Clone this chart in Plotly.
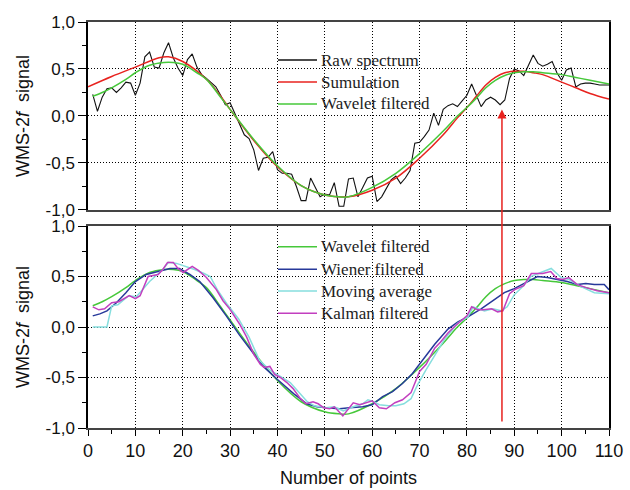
import plotly.graph_objects as go

# ---------------- data ----------------
raw_x = list(range(1, 111))
raw_y = [0.23, 0.05, 0.20, 0.29, 0.30, 0.25, 0.30, 0.36, 0.35, 0.22,
         0.35, 0.63, 0.68, 0.52, 0.51, 0.67, 0.78, 0.62, 0.51, 0.43,
         0.60, 0.66, 0.52, 0.44, 0.40, 0.36, 0.31, 0.22, 0.12, 0.14,
         0.02, -0.10, -0.20, -0.24, -0.36, -0.58, -0.45, -0.44, -0.38, -0.57,
         -0.61, -0.61, -0.62, -0.75, -0.90, -0.90, -0.66, -0.76, -0.86, -0.83,
         -0.84, -0.71, -0.96, -0.96, -0.67, -0.66, -0.86, -0.76, -0.66, -0.64,
         -0.91, -0.86, -0.77, -0.68, -0.64, -0.72, -0.66, -0.58, -0.29, -0.28,
         -0.22, -0.15, 0.03, -0.10, 0.07, 0.11, 0.13, 0.10, 0.16, 0.22,
         0.34, 0.21, 0.10, 0.17, 0.20, 0.17, 0.12, 0.17, 0.40, 0.50,
         0.48, 0.43, 0.55, 0.65, 0.56, 0.53, 0.55, 0.58, 0.46, 0.38,
         0.49, 0.51, 0.31, 0.34, 0.35, 0.35, 0.34, 0.33, 0.33, 0.33]

sim_x = [0, 5, 10, 15, 17, 20, 25, 28, 30, 35, 40, 45, 50, 53, 55, 60, 65, 70,
         75, 78, 80, 82, 84, 86, 88, 90, 92, 94, 96, 100, 103, 106, 110]
sim_y = [0.31, 0.42, 0.52, 0.62, 0.63, 0.58, 0.39, 0.21, 0.07, -0.26, -0.54,
         -0.74, -0.84, -0.86, -0.86, -0.79, -0.66, -0.45, -0.20, -0.02, 0.09,
         0.21, 0.33, 0.41, 0.46, 0.475, 0.475, 0.46, 0.44, 0.36, 0.30, 0.24, 0.18]

wav_x = [1, 3, 5, 8, 10, 13, 16, 18, 20, 23, 25, 28, 30, 35, 40, 45, 50, 53, 55,
         60, 65, 70, 75, 78, 80, 82, 84, 86, 88, 90, 92, 94, 96, 100, 103, 106, 110]
wav_y = [0.21, 0.25, 0.30, 0.39, 0.46, 0.54, 0.57, 0.57, 0.55, 0.46, 0.39, 0.20,
         0.07, -0.25, -0.53, -0.74, -0.84, -0.86, -0.86, -0.76, -0.61, -0.40,
         -0.16, 0.0, 0.09, 0.19, 0.30, 0.38, 0.43, 0.46, 0.47, 0.47, 0.46, 0.44,
         0.41, 0.38, 0.34]

wie_x = [1, 2.5, 4, 6, 8, 10, 12.3, 15, 17.3, 19.3, 21.5, 23.6, 26.4, 29.2, 32,
         34.9, 37, 40, 43.4, 46.2, 48.3, 50.3, 53.1, 55.2, 58, 60, 62.2, 64.3,
         66.4, 68.5, 70.6, 73.2, 76, 78.1, 80.2, 83, 85.8, 87.9, 90, 92.1, 94.9,
         97, 99.1, 101.2, 103.3, 105.1, 106.9, 109, 110]
wie_y = [0.11, 0.13, 0.16, 0.24, 0.34, 0.45, 0.52, 0.55, 0.58, 0.58, 0.52, 0.45,
         0.29, 0.11, -0.08, -0.26, -0.39, -0.52, -0.66, -0.76, -0.79, -0.80,
         -0.81, -0.80, -0.79, -0.77, -0.69, -0.64, -0.56, -0.46, -0.33, -0.17,
         -0.02, 0.05, 0.10, 0.18, 0.27, 0.34, 0.38, 0.43, 0.50, 0.49, 0.47, 0.45,
         0.42, 0.43, 0.42, 0.42, 0.37]

mov_x = [1, 4, 5, 6.3, 8.6, 10.2, 11.5, 13, 15.8, 17, 18.7, 20.8, 22.5, 24.5,
         25.8, 27.3, 29.3, 31.8, 34, 36.2, 38.5, 40.6, 42.7, 44.8, 46.3, 47.8,
         50.3, 52, 53.9, 56, 58, 59.1, 60.3, 61.5, 63.5, 65, 66.7, 68.2, 69.6,
         71.3, 73, 75.3, 78.1, 80.2, 81.3, 83.7, 85.5, 87.2, 88.5, 90, 91.8,
         93.5, 95.6, 97.8, 99.9, 101.6, 104.1, 106.9, 110]
mov_y = [0.0, 0.0, 0.21, 0.22, 0.31, 0.30, 0.37, 0.45, 0.57, 0.64, 0.63, 0.60,
         0.57, 0.53, 0.50, 0.37, 0.23, 0.08, -0.10, -0.33, -0.43, -0.49, -0.55,
         -0.66, -0.74, -0.78, -0.80, -0.79, -0.83, -0.79, -0.76, -0.72, -0.74,
         -0.77, -0.78, -0.78, -0.76, -0.71, -0.57, -0.43, -0.30, -0.12, 0.04,
         0.10, 0.20, 0.16, 0.18, 0.16, 0.20, 0.32, 0.40, 0.50, 0.54, 0.58, 0.49,
         0.47, 0.40, 0.34, 0.33]

kal_x = [1, 2.3, 3.5, 5, 6.5, 8.7, 10, 11, 12.7, 14.8, 15.8, 16.8, 18, 19, 20.1,
         22, 23.3, 25, 27.1, 28.5, 29.9, 32, 33.5, 35, 36.4, 37.2, 38.4, 39.4,
         40.6, 42, 43.3, 44.7, 46, 47.5, 48.6, 49.8, 51, 52, 53.8, 56, 57.4,
         58.5, 60, 61.5, 63, 64.8, 66.4, 68.2, 70, 71.4, 73.2, 74.4, 76, 77.5,
         79, 80, 81, 82.3, 83.5, 85.2, 86.5, 87.6, 89, 90.1, 92, 93.6, 96, 97.7,
         99, 100.3, 101.5, 103.3, 105.2, 107.5, 110]
kal_y = [0.20, 0.17, 0.18, 0.24, 0.25, 0.31, 0.28, 0.31, 0.50, 0.52, 0.57, 0.64,
         0.64, 0.58, 0.54, 0.60, 0.56, 0.49, 0.37, 0.26, 0.18, 0.03, -0.10,
         -0.27, -0.37, -0.40, -0.39, -0.47, -0.50, -0.55, -0.61, -0.70, -0.76,
         -0.74, -0.76, -0.80, -0.81, -0.79, -0.88, -0.75, -0.77, -0.75, -0.73,
         -0.80, -0.81, -0.75, -0.72, -0.65, -0.44, -0.37, -0.21, -0.15, -0.06,
         0.01, 0.07, 0.11, 0.20, 0.17, 0.17, 0.18, 0.15, 0.16, 0.33, 0.37, 0.41,
         0.53, 0.53, 0.55, 0.48, 0.47, 0.49, 0.42, 0.39, 0.36, 0.34]

top_labels = ["Raw spectrum", "Sumulation", "Wavelet filtered"]
bot_labels = ["Wavelet filtered", "Wiener filtered", "Moving average", "Kalman filtered"]

y_tickvals = [1.0, 0.5, 0.0, -0.5, -1.0]
y_ticktext = ["1,0", "0,5", "0,0", "-0,5", "-1,0"]
x_tickvals = [0, 10, 20, 30, 40, 50, 60, 70, 80, 90, 100, 110]
x_title = "Number of points"
y_title = "WMS-2<i>f</i>  signal"

arrow_x = 87.4
arrow_tip = 0.07     # top panel value
arrow_tail = -0.95   # bottom panel value

# ---------------- styling ----------------
C_RAW = "#111111"
C_SIM = "#e8231f"
C_WAV = "#46c83a"
C_WIE = "#27399a"
C_MOV = "#86dede"
C_KAL = "#c23fbf"

W, H = 630, 490
M_L, M_R, M_T, M_B = 88, 21, 22, 62
TOP_DOM = [0.537, 1.0]
BOT_DOM = [0.0, 0.4975]
plot_w = W - M_L - M_R
plot_h = H - M_T - M_B


def px_x(p):
    return (p - M_L) / plot_w


def px_y(p):
    return (H - M_B - p) / plot_h


fig = go.Figure()
top_series = [
    (raw_x, raw_y, C_RAW, 1.1, "linear"),
    (sim_x, sim_y, C_SIM, 1.5, "spline"),
    (wav_x, wav_y, C_WAV, 1.5, "spline"),
]
bot_series = [
    (wav_x, wav_y, C_WAV, 1.5, "spline"),
    (wie_x, wie_y, C_WIE, 1.5, "linear"),
    (mov_x, mov_y, C_MOV, 1.5, "linear"),
    (kal_x, kal_y, C_KAL, 1.5, "linear"),
]
for (xs, ys, c, w, sh), name in zip(top_series, top_labels):
    fig.add_trace(go.Scatter(x=xs, y=ys, mode="lines", name=name,
                             line=dict(color=c, width=w, shape=sh),
                             xaxis="x", yaxis="y", showlegend=False))
for (xs, ys, c, w, sh), name in zip(bot_series, bot_labels):
    fig.add_trace(go.Scatter(x=xs, y=ys, mode="lines", name=name,
                             line=dict(color=c, width=w, shape=sh),
                             xaxis="x2", yaxis="y2", showlegend=False))

xtickfont = dict(family="Liberation Sans, Arial", size=18, color="#111")
ytickfont = dict(family="Liberation Sans, Arial", size=17, color="#111")
grid = dict(showgrid=True, gridcolor="black", gridwidth=1, griddash="1px,2px",
            zeroline=False)

yaxis_common = dict(
    range=[-1, 1], tickvals=y_tickvals, ticktext=y_ticktext,
    ticks="outside", ticklen=8, tickwidth=1, tickcolor="black",
    minor=dict(dtick=0.25, tick0=0, ticks="outside", ticklen=4,
               tickcolor="black", showgrid=False),
    showline=True, linecolor="black", linewidth=1.5, mirror=True,
    tickfont=ytickfont,
    title=dict(text=y_title,
               font=dict(family="Liberation Sans, Arial", size=18, color="#111"),
               standoff=11),
    **grid,
)

fig.update_layout(
    width=W, height=H,
    margin=dict(l=M_L, r=M_R, t=M_T, b=M_B, autoexpand=False),
    paper_bgcolor="white", plot_bgcolor="white",
    showlegend=False,
    xaxis=dict(domain=[0, 1], range=[0, 110], anchor="y",
               tickvals=x_tickvals, showticklabels=False, ticks="",
               showline=True, linecolor="#444", linewidth=1.5, mirror=True,
               **grid),
    yaxis=dict(domain=TOP_DOM, anchor="x", **yaxis_common),
    xaxis2=dict(domain=[0, 1], range=[0, 110], anchor="y2",
                tickvals=x_tickvals, ticks="outside", ticklen=6,
                tickcolor="black",
                minor=dict(dtick=5, tick0=0, ticks="outside", ticklen=4,
                           tickcolor="black", showgrid=False),
                showline=True, linecolor="#444", linewidth=1.5, mirror=True,
                tickfont=xtickfont, **grid),
    yaxis2=dict(domain=BOT_DOM, anchor="x2", **yaxis_common),
)

# x-axis title placed as text below the bottom panel
fig.add_annotation(xref="paper", yref="paper", x=0.5, y=px_y(478),
                   xanchor="center", yanchor="middle", text=x_title,
                   showarrow=False,
                   font=dict(family="Liberation Sans, Arial", size=18, color="#111"))

# manual legends (line sample + text)
LEG_X0, LEG_X1, LEG_TX = 278, 317, 319
top_rows = [60, 82, 104]
bot_rows = [246.7, 269.3, 291, 313.3]
legfont = dict(family="Liberation Serif, Times New Roman", size=17, color="#222")
for (xs, ys, c, w, sh), name, row in zip(top_series, top_labels, top_rows):
    fig.add_shape(type="line", xref="paper", yref="paper",
                  x0=px_x(LEG_X0), x1=px_x(LEG_X1), y0=px_y(row), y1=px_y(row),
                  line=dict(color=c, width=1.5))
    fig.add_annotation(xref="paper", yref="paper", x=px_x(LEG_TX), y=px_y(row),
                       xanchor="left", yanchor="middle", text=name,
                       showarrow=False, font=legfont)
for (xs, ys, c, w, sh), name, row in zip(bot_series, bot_labels, bot_rows):
    fig.add_shape(type="line", xref="paper", yref="paper",
                  x0=px_x(LEG_X0), x1=px_x(LEG_X1), y0=px_y(row), y1=px_y(row),
                  line=dict(color=c, width=1.5))
    fig.add_annotation(xref="paper", yref="paper", x=px_x(LEG_TX), y=px_y(row),
                       xanchor="left", yanchor="middle", text=name,
                       showarrow=False, font=legfont)

# red arrow from bottom panel up into the top panel
top_px = M_T + plot_h * (1 - TOP_DOM[1])
top_h = plot_h * (TOP_DOM[1] - TOP_DOM[0])
bot_px = M_T + plot_h * (1 - BOT_DOM[1])
bot_h = plot_h * (BOT_DOM[1] - BOT_DOM[0])
tip_px = top_px + (1 - arrow_tip) / 2 * top_h
tail_px = bot_px + (1 - arrow_tail) / 2 * bot_h

fig.add_annotation(x=arrow_x, y=arrow_tip, xref="x", yref="y",
                   ax=0, ay=tail_px - tip_px, axref="pixel", ayref="pixel",
                   text="", showarrow=True, arrowhead=2, arrowsize=1.2,
                   arrowwidth=1.5, arrowcolor=C_SIM, standoff=0)

fig.write_html("out.html")
